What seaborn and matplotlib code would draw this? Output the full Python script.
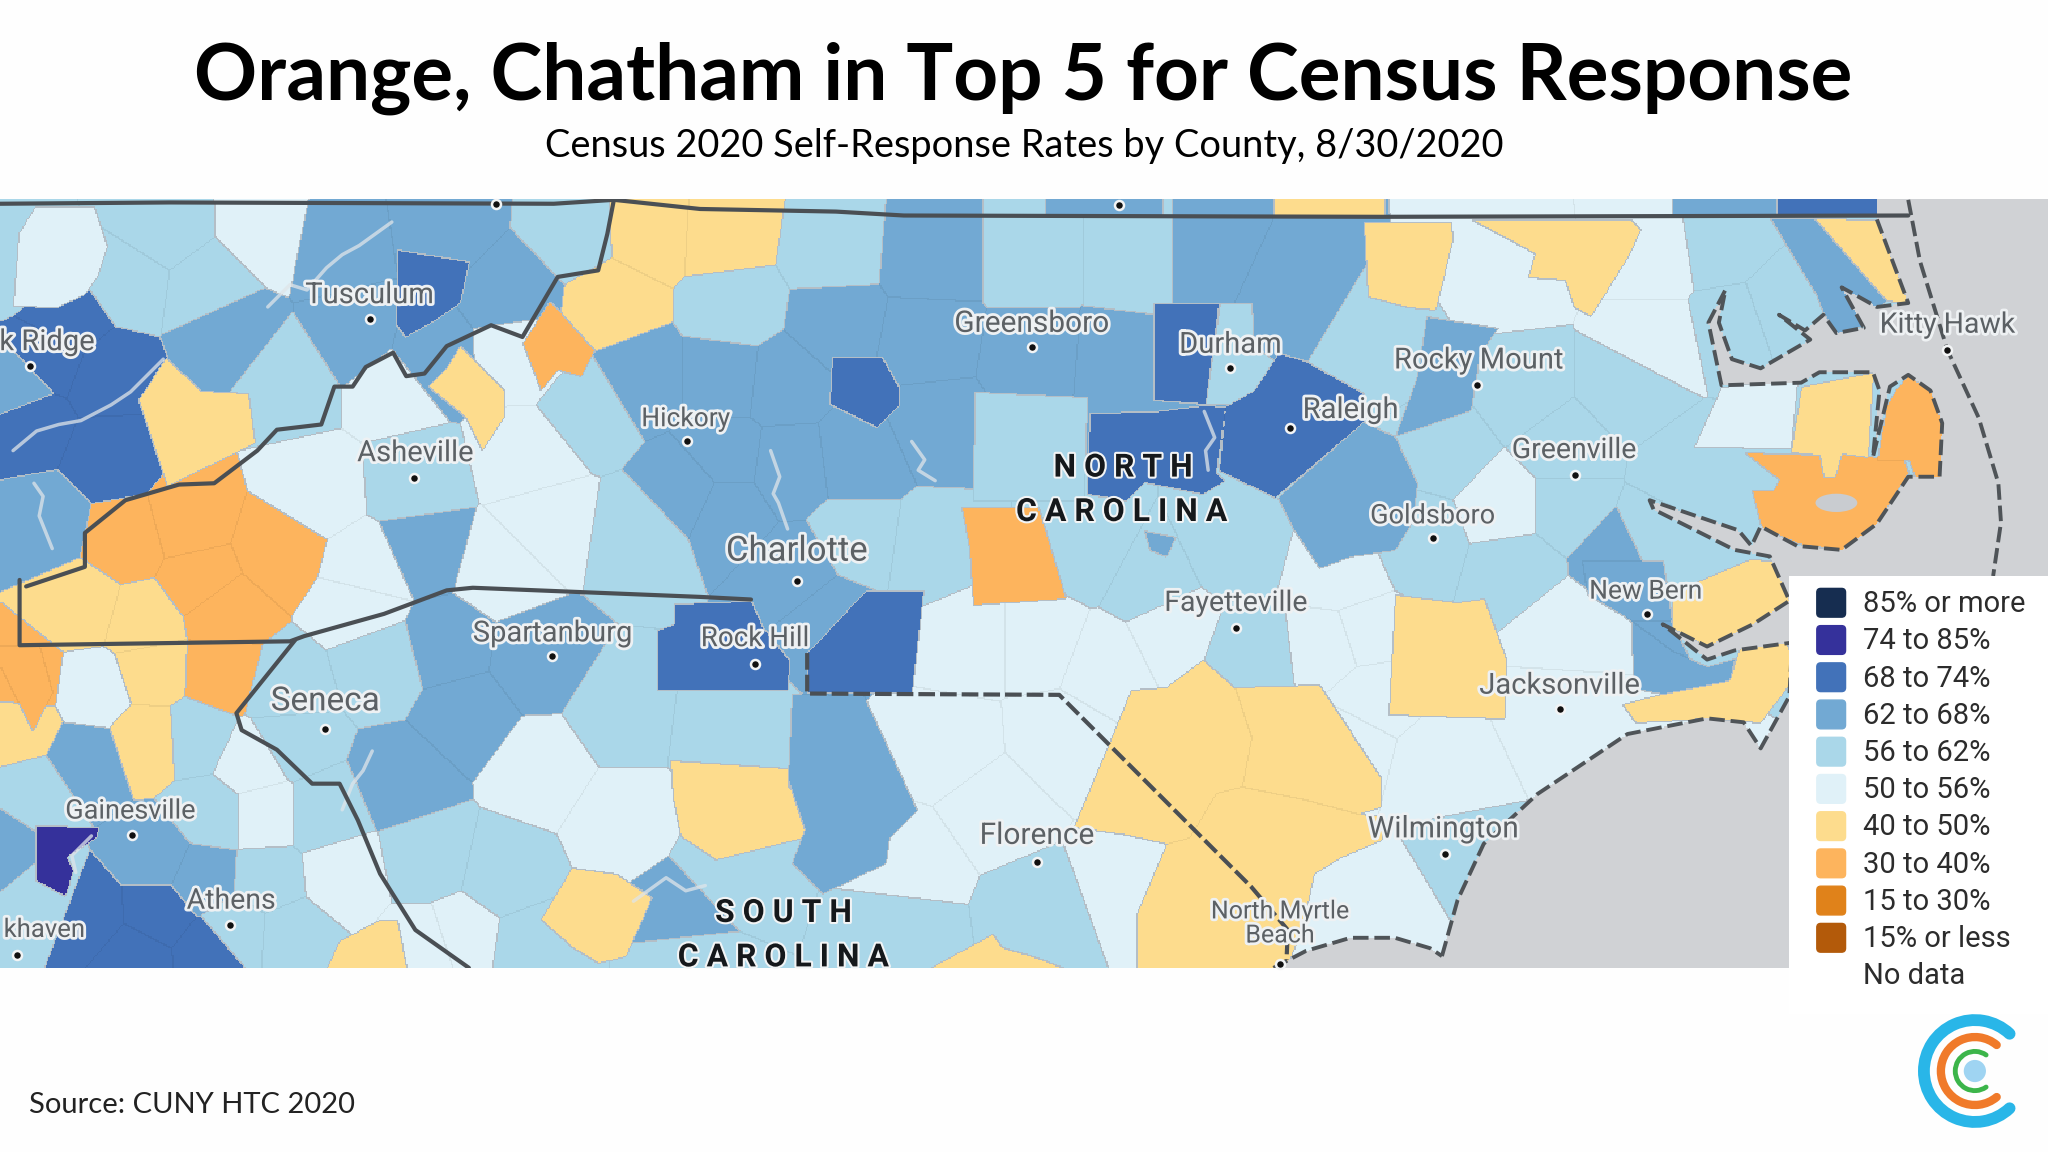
import numpy as np
import matplotlib
matplotlib.use('Agg')
import matplotlib.pyplot as plt
import matplotlib.patheffects as pe
from matplotlib.colors import ListedColormap, to_rgb
from matplotlib.patches import Arc, Ellipse, FancyBboxPatch, Rectangle
from matplotlib.path import Path
import seaborn as sns

# ---------- legend ----------
legend_labels = ['85% or more', '74 to 85%', '68 to 74%', '62 to 68%', '56 to 62%',
                 '50 to 56%', '40 to 50%', '30 to 40%', '15 to 30%', '15% or less', 'No data']
bin_colors = ['#162d50', '#35319b', '#4272b9', '#72a9d3', '#aad7e9',
              '#e0f1f8', '#fddc8d', '#fdb45d', '#e0821a', '#b35a0a']

# ---------- county centres per response bin ----------
counties_74_85 = []
counties_68_74 = [(51, 248), (82, 286), (20, 324), (85, 350), (40, 270), (68, 702), (120, 699),
                  (160, 730), (103, 732)]
counties_62_68 = [(256, 184), (342, 171), (171, 253), (274, 260), (393, 222), (325, 273), (34, 400),
                  (10, 298), (325, 418), (489, 288), (527, 375), (712, 197), (640, 247), (709, 260),
                  (928, 197), (982, 222), (555, 288), (599, 293), (791, 273), (856, 278), (603, 357),
                  (657, 350), (716, 324), (555, 350), (555, 388), (1239, 426), (65, 582), (120, 656),
                  (154, 671), (342, 495), (410, 505), (356, 546), (308, 597), (523, 699), (634, 470),
                  (610, 440), (0, 648)]
counties_56_62 = [(123, 176), (99, 214), (157, 222), (222, 293), (438, 179), (318, 370), (451, 311),
                  (489, 411), (637, 191), (562, 235), (791, 197), (866, 197), (657, 413), (712, 421),
                  (835, 421), (941, 416), (880, 445), (1058, 268), (1164, 298), (1246, 298), (1105, 342),
                  (1198, 344), (1293, 362), (1198, 388), (1085, 413), (1160, 434), (1266, 413), (1318, 189),
                  (1328, 247), (1362, 235), (150, 564), (219, 528), (222, 566), (291, 508), (246, 623),
                  (161, 623), (27, 607), (205, 674), (328, 656), (386, 669), (475, 546), (222, 715),
                  (407, 725), (34, 689), (181, 712), (555, 556), (794, 699), (955, 503), (692, 712),
                  (555, 669), (10, 200), (1116, 660), (527, 735)]
counties_50_56 = [(205, 174), (300, 293), (240, 375), (400, 270), (403, 350), (417, 400),
                  (383, 434), (280, 438), (1153, 209), (1266, 197), (1266, 260), (1153, 388), (1027, 439),
                  (72, 528), (274, 462), (192, 584), (202, 623), (260, 669), (414, 589), (475, 628),
                  (352, 717), (328, 725), (740, 490), (798, 490), (845, 508), (726, 572), (811, 566),
                  (760, 618), (698, 661), (863, 674), (897, 482), (1020, 495), (1198, 481), (1194, 544),
                  (1102, 588), (1044, 487), (1051, 530), (1068, 689), (1030, 570)]
counties_40_50 = [(555, 179), (496, 176), (468, 232), (62, 464), (109, 477), (116, 513), (14, 556),
                  (113, 566)]
counties_30_40 = [(144, 400), (96, 413), (212, 421), (154, 444), (171, 467), (168, 515), (17, 520)]
counties_bins = [(1, counties_74_85), (2, counties_68_74), (3, counties_62_68), (4, counties_56_62),
                 (5, counties_50_56), (6, counties_40_50), (7, counties_30_40)]

# counties with a sharp outline, painted over the centres
outline_bins = [5, 2, 2, 2, 4, 2, 2, 4, 7, 2, 2, 1,
                6, 6, 6, 6, 6, 6, 7, 6, 7, 5, 6, 7, 7, 6,
                3, 6, 2, 3,
                3, 6, 6, 3, 6, 6, 6, 3, 3, 3, 3, 3, 6, 6]
outlines = [
    [(14, 179), (27, 158), (72, 158), (82, 189), (74, 212), (65, 225), (44, 235), (10, 234)],
    [(304, 191), (359, 200), (352, 232), (333, 245), (310, 258), (303, 248)],
    [(637, 273), (675, 273), (688, 296), (688, 311), (671, 327), (635, 309)],
    [(883, 232), (933, 232), (923, 309), (883, 306)],
    [(934, 232), (958, 232), (960, 265), (979, 278), (960, 299), (957, 310), (923, 309)],
    [(979, 270), (999, 276), (1044, 301), (1044, 323), (976, 381), (933, 360), (938, 311), (960, 299)],
    [(834, 316), (883, 315), (922, 310), (938, 311), (931, 362), (938, 368), (921, 378), (876, 369),
     (862, 383), (832, 378)],
    [(746, 300), (832, 304), (830, 383), (745, 383)],
    [(736, 388), (795, 388), (816, 458), (745, 463), (742, 420)],
    [(516, 462), (575, 460), (584, 480), (604, 505), (603, 528), (503, 528), (503, 482), (516, 478)],
    [(663, 452), (707, 452), (698, 530), (618, 530), (618, 500), (634, 483)],
    [(27, 632), (75, 633), (74, 641), (51, 656), (56, 666), (50, 686), (27, 674)],
    [(921, 505), (945, 526), (958, 564), (951, 602), (931, 607), (911, 641), (893, 646), (863, 639), (822, 633),
     (849, 569), (866, 528), (893, 526)],
    [(945, 526), (1010, 524), (1057, 595), (1057, 618), (1040, 623), (999, 612), (951, 602), (958, 564)],
    [(951, 602), (999, 612), (1040, 623), (1058, 625), (1058, 643), (1027, 656), (1006, 669), (997, 710),
     (985, 741), (870, 741), (870, 700), (893, 646), (911, 641), (931, 607)],
    [(1068, 455), (1116, 461), (1136, 458), (1153, 504), (1152, 550), (1063, 547)],
    [(1044, 170), (1111, 170), (1112, 184), (1099, 237), (1078, 235), (1047, 227)],
    [(1126, 168), (1249, 168), (1256, 176), (1246, 197), (1218, 242), (1205, 235), (1198, 214),
     (1170, 212), (1175, 194), (1157, 184)],
    [(1335, 346), (1393, 348), (1396, 365), (1405, 365), (1410, 347), (1458, 352), (1461, 362),
     (1437, 401), (1410, 421), (1376, 416), (1348, 403), (1341, 375), (1358, 375), (1362, 367)],
    [(1379, 296), (1434, 285), (1430, 350), (1410, 347), (1405, 365), (1396, 365), (1393, 348), (1371, 346)],
    [(1444, 311), (1451, 299), (1461, 287), (1478, 299), (1487, 324), (1485, 365), (1468, 370),
     (1461, 352), (1437, 352)],
    [(1318, 296), (1376, 291), (1371, 343), (1297, 342)],
    [(127, 274), (154, 299), (190, 301), (195, 339), (128, 372), (106, 306)],
    [(421, 230), (455, 268), (445, 288), (427, 283), (414, 299), (400, 263)],
    [(0, 494), (30, 494), (40, 530), (25, 560), (0, 510)],
    [(352, 265), (386, 299), (386, 319), (369, 345), (356, 319), (328, 296), (342, 281)],
    [(800, 152), (890, 152), (890, 165), (800, 165)],
    [(975, 152), (1060, 152), (1060, 166), (975, 166)],
    [(1360, 152), (1440, 152), (1440, 164), (1360, 164)],
    [(1280, 152), (1360, 152), (1360, 164), (1280, 164)],
    [(876, 406), (900, 411), (893, 426), (880, 421)],
    [(712, 741), (760, 715), (767, 725), (794, 733), (815, 741)],
    [(513, 582), (603, 588), (603, 602), (622, 620), (616, 641), (548, 658), (521, 640), (515, 610)],
    [(606, 531), (661, 532), (702, 620), (681, 641), (678, 661), (630, 684), (606, 661), (616, 635), (603, 597)],
    [(438, 664), (472, 669), (499, 687), (479, 732), (458, 737), (438, 725), (414, 704)],
    [(291, 704), (304, 704), (311, 741), (250, 741), (260, 720)],
    [(1389, 167), (1437, 168), (1461, 232), (1444, 230)],
    [(1355, 167), (1389, 167), (1444, 230), (1424, 250), (1406, 255), (1396, 240), (1390, 225)],
    [(1092, 242), (1147, 251), (1133, 270), (1126, 314), (1068, 334), (1085, 288)],
    [(978, 381), (1044, 323), (1068, 334), (1085, 370), (1081, 400), (1068, 421), (1034, 426), (1010, 435),
     (990, 405)],
    [(1249, 475), (1280, 498), (1307, 510), (1328, 504), (1324, 521), (1273, 531), (1250, 527)],
    [(1211, 429), (1273, 429), (1280, 475), (1249, 475), (1215, 455)],
    [(1242, 539), (1273, 531), (1324, 521), (1331, 498), (1362, 478), (1370, 498), (1370, 524), (1348, 553),
     (1307, 550), (1252, 553)],
    [(1280, 458), (1300, 445), (1340, 428), (1370, 430), (1370, 460), (1342, 478), (1307, 495), (1280, 481)],
]

water_outline = [(975, 741), (1000, 728), (1034, 718), (1068, 718), (1095, 726), (1104, 732), (1116, 689),
                 (1136, 646), (1177, 608), (1246, 562), (1307, 550), (1335, 553), (1348, 573), (1370, 533),
                 (1372, 492), (1328, 498), (1307, 505), (1273, 478), (1307, 495), (1342, 478), (1370, 460),
                 (1355, 426), (1328, 421), (1266, 390), (1263, 383), (1331, 406), (1341, 418), (1348, 403),
                 (1376, 418), (1410, 421), (1437, 401), (1461, 365), (1485, 365), (1487, 324), (1478, 299),
                 (1461, 287), (1447, 296), (1434, 350), (1439, 299), (1434, 285), (1393, 285), (1379, 293),
                 (1318, 295), (1308, 247), (1321, 222), (1316, 247), (1326, 275), (1348, 282), (1386, 260),
                 (1362, 241), (1382, 253), (1396, 241), (1406, 255), (1427, 251), (1410, 220), (1437, 235),
                 (1461, 232), (1437, 168), (1437, 152), (1568, 152), (1568, 741)]
outer_banks = [(1461, 153), (1470, 200), (1491, 268), (1515, 320), (1530, 370), (1532, 400), (1526, 441)]
south_coast = [(975, 741), (1000, 728), (1034, 718), (1068, 718), (1095, 726), (1104, 732)]

tn_border = [(20, 449), (65, 434), (65, 408), (96, 383), (137, 371), (164, 370), (197, 345), (212, 329),
             (246, 325), (256, 296), (270, 296), (280, 281), (301, 270), (311, 288), (325, 286), (342, 265),
             (376, 249), (400, 258), (427, 212), (458, 207), (465, 179), (470, 153)]
top_border = [(0, 156), (130, 155), (424, 156), (470, 153), (536, 160), (640, 162), (692, 165), (1057, 166),
              (1461, 165)]
south_border = [(15, 444), (15, 494), (222, 491), (233, 487), (294, 470), (342, 452), (362, 450), (536, 457),
                (575, 459)]
ga_border = [(226, 490), (181, 546), (185, 559), (212, 574), (239, 600), (260, 600), (274, 628), (291, 669),
             (318, 712), (359, 741)]
sc_dashed = [(618, 500), (618, 531), (811, 532), (958, 679), (986, 712), (985, 735)]

# lakes and rivers
water_lines = [
    [(590, 345), (597, 365), (592, 378), (596, 385), (603, 405)],
    [(698, 338), (708, 352), (703, 360), (716, 368)],
    [(922, 315), (930, 335), (923, 345), (925, 360)],
    [(70, 640), (55, 655), (58, 668)],
    [(540, 678), (525, 682), (510, 672), (485, 690)],
    [(285, 575), (278, 590), (270, 600), (262, 620)],
    [(10, 345), (28, 330), (45, 325), (62, 322), (85, 310), (100, 300), (125, 275)],
    [(205, 235), (222, 218), (235, 222), (250, 205), (262, 195), (275, 188), (300, 170)],
    [(26, 370), (33, 380), (30, 395), (40, 420)],
]

cities = ['Tusculum', 'k Ridge', 'Hickory', 'Asheville', 'Greensboro', 'Durham', 'Rocky Mount', 'Raleigh',
          'Greenville', 'Goldsboro', 'Charlotte', 'Kitty Hawk', 'New Bern', 'Fayetteville', 'Spartanburg',
          'Rock Hill', 'Jacksonville', 'Seneca', 'Gainesville', 'Wilmington', 'Florence', 'Athens',
          'North Myrtle\nBeach', 'khaven']
city_label_xy = [(283, 226), (36, 262), (525, 321), (318, 347), (790, 248), (942, 264), (1132, 276), (1034, 314),
                 (1205, 345), (1097, 395), (610, 422), (1491, 249), (1260, 453), (946, 462), (423, 485),
                 (578, 489), (1194, 525), (249, 537), (100, 621), (1105, 635), (794, 640), (177, 690),
                 (980, 707), (34, 712)]
city_sizes = [21, 21, 19, 21, 21.5, 21, 21, 21, 20.5, 19.5, 25, 20.5, 19, 20.5, 21, 20, 21, 24, 19.5, 21.5,
              21.5, 20.5, 18, 18.5]
city_dot_xy = [(283, 244), (23, 280), (526, 338), (317, 366), (790, 266), (942, 282), (1131, 295), (988, 328),
               (1206, 364), (1097, 412), (610, 445), (1491, 268), (1261, 470), (946, 481), (423, 502),
               (578, 508), (1194, 543), (249, 558), (101, 639), (1106, 654), (794, 660), (176, 708),
               (980, 738), (13, 731), (380, 156), (857, 157)]

# ---------- build the grid for the heatmap ----------
MAP_TOP, MAP_BOTTOM = 152, 741
xs = np.arange(1568) + 0.5
ys = np.arange(MAP_TOP, MAP_BOTTOM) + 0.5
seed_xy = np.array([p for _, pts in counties_bins for p in pts], dtype=float)
seed_bin = np.array([b for b, pts in counties_bins for _ in pts])

county_id = np.zeros((len(ys), len(xs)), dtype=int)
for i, y in enumerate(ys):
    d = (xs[:, None] - seed_xy[:, 0]) ** 2 + (y - seed_xy[:, 1]) ** 2
    county_id[i] = d.argmin(axis=1)
fill = seed_bin[county_id]

gx, gy = np.meshgrid(xs, ys)
grid_pts = np.column_stack([gx.ravel(), gy.ravel()])
next_id = len(seed_xy)
for b, verts in zip(outline_bins, outlines):
    inside = Path(verts).contains_points(grid_pts).reshape(fill.shape)
    fill[inside] = b
    county_id[inside] = next_id
    next_id += 1

# borders between counties
edge = np.zeros_like(fill, dtype=bool)
edge_strong = np.zeros_like(fill, dtype=bool)
edge[:, 1:] |= county_id[:, 1:] != county_id[:, :-1]
edge[1:, :] |= county_id[1:, :] != county_id[:-1, :]
edge_strong[:, 1:] |= fill[:, 1:] != fill[:, :-1]
edge_strong[1:, :] |= fill[1:, :] != fill[:-1, :]

WATER, BORDER = 2 * len(bin_colors), 2 * len(bin_colors) + 1
codes = fill.copy()
codes[edge] = fill[edge] + len(bin_colors)
codes[edge_strong] = BORDER
water = Path(water_outline).contains_points(grid_pts).reshape(fill.shape)
codes[water] = WATER

faint = [tuple(c * 0.94 for c in to_rgb(col)) for col in bin_colors]
map_cmap = ListedColormap(bin_colors + faint + ['#d0d2d5', '#b4bec6'])

# ---------- figure ----------
W, H = 1568, 882
sns.set_theme(style='white')
plt.rcParams['font.family'] = ['Lato', 'DejaVu Sans']
fig = plt.figure(figsize=(20.48, 11.52), dpi=100, facecolor='#fefefe')
map_ax = fig.add_axes([0, (H - MAP_BOTTOM) / H, 1, (MAP_BOTTOM - MAP_TOP) / H])
sns.heatmap(codes, ax=map_ax, cmap=map_cmap, vmin=-0.5, vmax=BORDER + 0.5, cbar=False,
            xticklabels=False, yticklabels=False, rasterized=True)

ax = fig.add_axes([0, 0, 1, 1], facecolor='none')
ax.set_xlim(0, W)
ax.set_ylim(H, 0)
ax.axis('off')
map_clip = Rectangle((0, MAP_TOP), W, MAP_BOTTOM - MAP_TOP, transform=ax.transData)


def draw_line(pts, **kw):
    line, = ax.plot(*zip(*pts), solid_capstyle='round', **kw)
    line.set_clip_path(map_clip)


for river in water_lines:
    draw_line(river, color='#dfe5e9', lw=2.5, alpha=0.75)
for border in [tn_border, top_border, south_border, ga_border]:
    draw_line(border, color='#4a4f54', lw=3)
draw_line(sc_dashed, color='#4a4f54', lw=3, ls=(0, (4, 1.2)))
draw_line(water_outline[5:-3], color='#4f5458', lw=2.8, ls=(0, (4, 1.5)))
draw_line(south_coast, color='#4f5458', lw=2.8, ls=(0, (4, 1.5)))
draw_line(outer_banks, color='#4f5458', lw=2.8, ls=(0, (4, 1.5)))

# lake in Hyde county
ax.add_patch(Ellipse((1406, 385), 32, 14, color='#c9ccd0', lw=0))

halo = [pe.withStroke(linewidth=4, foreground='#eef1f3')]
for name, (x, y), size in zip(cities, city_label_xy, city_sizes):
    ax.text(x, y, name, ha='center', va='center', color='#5c6165', fontsize=size, family='Roboto',
            linespacing=1.0, path_effects=halo)
dx, dy = zip(*city_dot_xy)
ax.scatter(dx, dy, s=42, color='#101010', edgecolor='#f2f4f5', linewidth=1.8, zorder=5)

for txt, x, y in [('N O R T H', 860, 358), ('C A R O L I N A', 859, 392), ('S O U T H', 600, 699),
                  ('C A R O L I N A', 600, 733)]:
    t = ax.text(x, y, txt, ha='center', va='center', color='#15181b', fontsize=23, weight='bold',
                family='Roboto', path_effects=[pe.withStroke(linewidth=3, foreground='#f2f4f5')])
    t.set_clip_path(map_clip)

# ---------- legend box ----------
ax.add_patch(Rectangle((1370, 441), 198, 335, color='white', lw=0, zorder=6))
for i, (lab, col) in enumerate(zip(legend_labels, bin_colors + ['white'])):
    y = 461.5 + i * 28.5
    if i < len(bin_colors):
        ax.add_patch(FancyBboxPatch((1391, y - 11), 22, 22, boxstyle='round,pad=0,rounding_size=3',
                                    fc=col, ec=col, lw=1, zorder=7, mutation_aspect=1))
    ax.text(1426, y + 1, lab, va='center', ha='left', fontsize=21, color='#2c2c2c', family='Roboto',
            zorder=7)

# ---------- titles ----------
ax.text(783, 60, 'Orange, Chatham in Top 5 for Census Response', ha='center', va='center', fontsize=56.3,
        weight='bold', color='black')
ax.text(784, 112, 'Census 2020 Self-Response Rates by County, 8/30/2020', ha='center', va='center',
        fontsize=27.4, color='black')
ax.text(22, 846, 'Source: CUNY HTC 2020', ha='left', va='center', fontsize=21, color='#222222')

# ---------- logo ----------
for r, lw, col, ang in [(39, 8.5, '#29b6e8', 47), (26, 6, '#f07a2a', 50), (15, 3.5, '#3cb54a', 55)]:
    ax.add_patch(Arc((1512, 820), 2 * r, 2 * r, theta1=ang - 360, theta2=-ang, color=col, lw=lw,
                     capstyle='round'))
ax.add_patch(Ellipse((1512, 820), 17, 17, color='#9fd4f2', lw=0))

fig.savefig('out.png', dpi=100, facecolor=fig.get_facecolor())
